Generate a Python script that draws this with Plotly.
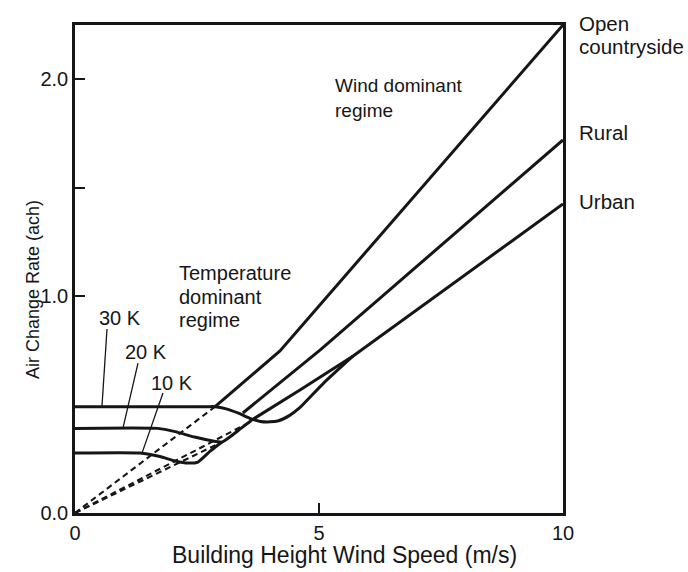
import plotly.graph_objects as go

# ---- data ----
# temperature-dominant curves (flat part, dip, merge into wind lines)
t30_x = [0, 1.5, 2.7, 2.87, 3.1, 3.35, 3.6, 3.8, 4.0, 4.17, 4.4, 4.6, 5.1, 5.7]
t30_y = [0.49, 0.49, 0.49, 0.49, 0.48, 0.46, 0.435, 0.422, 0.42, 0.425, 0.45, 0.484, 0.6, 0.724]
t20_x = [0, 1.7, 2.05, 2.45, 2.8, 3.01, 3.2, 3.4, 3.6]
t20_y = [0.39, 0.39, 0.375, 0.35, 0.333, 0.327, 0.355, 0.39, 0.424]
t10_x = [0, 1.33, 1.74, 2.05, 2.32, 2.52, 2.77, 3.01]
t10_y = [0.276, 0.276, 0.26, 0.24, 0.23, 0.235, 0.285, 0.327]

# wind-dominant lines
open_x = [2.87, 4.2, 10]
open_y = [0.49, 0.747, 2.249]
rural_x = [3.44, 5.02, 10]
rural_y = [0.461, 0.751, 1.719]
urban_x = [3.59, 4.61, 5.7, 10]
urban_y = [0.424, 0.567, 0.724, 1.424]

# dashed extrapolations to the origin
dash_open_x = [0, 2.87]
dash_open_y = [0, 0.49]
dash_mid_x = [0, 3.63]
dash_mid_y = [0, 0.424]
dash_low_x = [0, 3.01]
dash_low_y = [0, 0.327]

# label leader lines
lead30_x = [0.656, 0.553]
lead30_y = [0.848, 0.493]
lead20_x = [1.291, 0.984]
lead20_y = [0.691, 0.392]
lead10_x = [1.803, 1.373]
lead10_y = [0.553, 0.276]

x_ticks = [0, 5, 10]
x_tick_labels = ["0", "5", "10"]
y_ticks = [0, 1.0, 1.5, 2.0]
y_tick_labels = ["0.0", "1.0", "", "2.0"]

INK = "#161616"
FONT = "Liberation Sans, Arial, Helvetica, sans-serif"

fig = go.Figure()


def add(x, y, width=3.0, dash=None, shape="linear", smooth=None):
    line = dict(color=INK, width=width, shape=shape)
    if dash:
        line["dash"] = dash
    if smooth is not None:
        line["smoothing"] = smooth
    fig.add_trace(go.Scatter(x=x, y=y, mode="lines", line=line,
                             hoverinfo="skip", showlegend=False))


# dashed first (beneath)
add(dash_open_x, dash_open_y, width=2.1, dash="6px,4px")
add(dash_mid_x, dash_mid_y, width=2.1, dash="6px,4px")
add(dash_low_x, dash_low_y, width=2.1, dash="6px,4px")

add(t30_x, t30_y, shape="spline", smooth=0.5)
add(t20_x, t20_y, shape="spline", smooth=0.5)
add(t10_x, t10_y, shape="spline", smooth=0.5)
add(open_x, open_y)
add(rural_x, rural_y)
add(urban_x, urban_y)

add(lead30_x, lead30_y, width=1.3)
add(lead20_x, lead20_y, width=1.3)
add(lead10_x, lead10_y, width=1.3)


def txt(x, y, s, size=20, ref="data", anchor="center", angle=0):
    d = dict(x=x, y=y, text=s, showarrow=False, xanchor=anchor, yanchor="middle",
             font=dict(family=FONT, size=size, color=INK), textangle=angle)
    if ref == "paper":
        d.update(xref="paper", yref="paper")
    else:
        d.update(xref="x", yref="y")
    return d


annotations = [
    txt(0.922, 0.899, "30 K"),
    txt(1.455, 0.742, "20 K"),
    txt(1.988, 0.599, "10 K"),
    txt(2.09, 1.106, "Temperature", anchor="left"),
    txt(2.09, 0.995, "dominant", anchor="left"),
    txt(2.09, 0.889, "regime", anchor="left"),
    txt(5.287, 1.972, "Wind dominant", size=19, anchor="left"),
    txt(5.287, 1.857, "regime", size=19, anchor="left"),
    txt(1.029, 1.004, "Open", size=20.5, ref="paper", anchor="left"),
    txt(1.029, 0.955, "countryside", size=20.5, ref="paper", anchor="left"),
    txt(1.029, 0.779, "Rural", size=20.5, ref="paper", anchor="left"),
    txt(1.029, 0.639, "Urban", size=20.5, ref="paper", anchor="left"),
    txt(0.553, -0.086, "Building Height Wind Speed (m/s)", size=23, ref="paper"),
    txt(-0.086, 0.457, "Air Change Rate (ach)", size=18, ref="paper", angle=-90),
]

axis_common = dict(showline=True, mirror=True, linecolor=INK, linewidth=2.6,
                   ticks="inside", ticklen=10, tickwidth=2, tickcolor=INK,
                   showgrid=False, zeroline=False,
                   tickfont=dict(family=FONT, size=20, color=INK))

fig.update_layout(
    width=688, height=572,
    margin=dict(l=75, r=125, t=25, b=59, autoexpand=False),
    paper_bgcolor="white", plot_bgcolor="white",
    xaxis=dict(range=[0, 10], tickvals=x_ticks, ticktext=x_tick_labels, **axis_common),
    yaxis=dict(range=[0, 2.249], tickvals=y_ticks, ticktext=y_tick_labels, **axis_common),
    annotations=annotations,
)

# remove the page's default body margin so the figure fills the window exactly
fig.write_html("out.html", config={"displayModeBar": False},
               post_script="document.body.style.margin='0';")
